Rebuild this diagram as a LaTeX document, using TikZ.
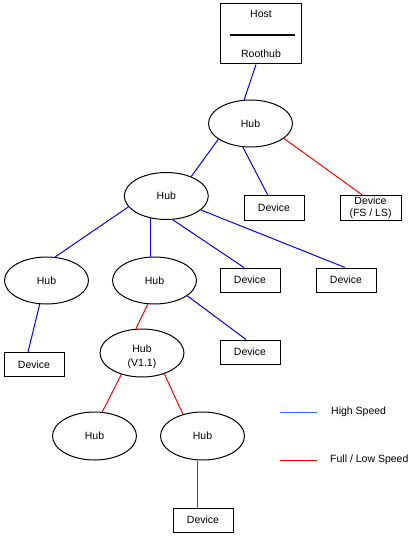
\documentclass[tikz,border=0pt]{standalone}
\usepackage{fontspec}
\setmainfont{Liberation Sans}
\usetikzlibrary{shapes.geometric}
\definecolor{hsblue}{RGB}{0,0,255}
\definecolor{fsred}{RGB}{255,0,0}
\definecolor{legblue}{RGB}{51,102,255}
\begin{document}
\begin{tikzpicture}[x=1pt,y=-1pt,
  every node/.style={font=\fontsize{10.5}{14}\selectfont},
  hub/.style={draw=black,line width=1pt,ellipse,minimum width=84pt,minimum height=47pt,inner sep=0pt},
  dev/.style={draw=black,line width=1pt,rectangle,minimum width=60pt,minimum height=24pt,inner sep=0pt,align=center},
  hs/.style={draw=hsblue,line width=1pt},
  fs/.style={draw=fsred,line width=1pt},
  txt/.style={inner sep=0pt,align=center}]
\useasboundingbox (0,0) rectangle (413,537);
% host box
\node[draw=black,line width=1pt,minimum width=81pt,minimum height=60pt,inner sep=0pt] (host) at (261,34) {};
\node[txt] (hosttxt) at (261,14) {Host};
\node[txt] (roottxt) at (261,53.5) {Roothub};
\draw[line width=2pt] (230,35) -- (295,35);
% hubs
\node[hub] (hub1) at (250.5,123.5) {Hub};
\node[hub] (hub2) at (166.3,196) {Hub};
\node[hub] (hub3) at (46.5,280.5) {Hub};
\node[hub] (hub4) at (154.5,280.5) {Hub};
\node[hub,minimum height=48pt] (hubv) at (142,353) {};
\node[txt] (hubvtxt) at (142,357) {Hub\\(V1.1)};
\node[hub,minimum height=48pt] (hub5) at (94.5,436) {Hub};
\node[hub,minimum height=48pt] (hub6) at (202.5,436) {Hub};
% devices
\node[dev] (dev1) at (274,208) {Device};
\node[dev,minimum width=61pt] (devfs) at (370.5,208) {Device\\[-1.5pt](FS / LS)};
\node[dev] (deva) at (250,280) {Device};
\node[dev] (devb) at (346,280) {Device};
\node[dev] (devl) at (34,364.5) {Device};
\node[dev] (devr) at (250,352) {Device};
\node[dev] (devbot) at (203,520) {Device};
% high speed connectors
\draw[hs] ([xshift=-5pt]host.south) -- (hub1.105.5);
\draw[hs] (hub1.206) -- (hub2.38.7);
\draw[hs] (hub1.252.3) -- ([xshift=-6pt]dev1.north);
\draw[hs] (hub2.196) -- (hub3.70);
\draw[hs] (hub2.234.2) -- (hub2.234.2 |- hub4.north);
\draw[hs] (hub2.285.6) -- ([xshift=-6pt]deva.north);
\draw[hs] (hub2.338.6) -- ([xshift=-1pt]devb.north);
\draw[hs] (hub3.254.5) -- ([xshift=-6pt]devl.north);
\draw[hs] (hub4.335.2) -- ([xshift=-4pt]devr.north);
% full/low speed connectors
\draw[fs] (hub1.336) -- ([xshift=-7.5pt]devfs.north);
\draw[fs] (hub4.254.5) -- (hubv.104);
\draw[fs] (hubv.226.5) -- (hub5.72.6);
\draw[fs] (hubv.317.2) -- (hub6.132.5);
\draw[fs] ([xshift=-5.5pt]hub6.south) -- ([xshift=-5.5pt]hub6.south |- devbot.north);
% legend
\coordinate (lhs1) at (280,412);
\coordinate (lhs2) at (317,412);
\coordinate (lfs1) at (280,460);
\coordinate (lfs2) at (317,460);
\draw[draw=legblue,line width=1pt] (lhs1) -- (lhs2);
\draw[draw=fsred,line width=1pt] (lfs1) -- (lfs2);
\node[txt,anchor=west] (lhstxt) at (331,412) {High Speed};
\node[txt,anchor=west] (lfstxt) at (330,460) {Full / Low Speed};
\end{tikzpicture}
\end{document}
